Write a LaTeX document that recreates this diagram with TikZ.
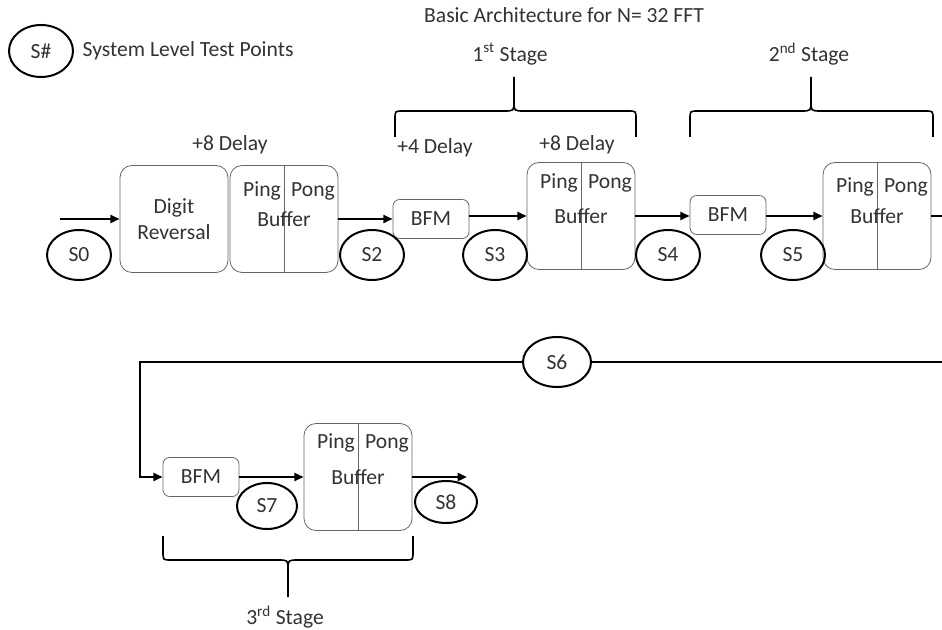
\documentclass[tikz,border=0pt]{standalone}
\usepackage{fontspec}
\setmainfont{Carlito}
\usetikzlibrary{arrows.meta,shapes.geometric}
\definecolor{txt}{HTML}{333333}
\begin{document}
\begin{tikzpicture}[x=0.75pt,y=-0.75pt,
  font=\fontsize{16.2}{18.5}\selectfont, text=txt,
  tp/.style={draw=black, line width=1.5pt, ellipse, inner sep=0pt, minimum width=64pt*0.75, minimum height=50pt*0.75},
  bigbox/.style={draw=black!60, line width=0.6pt, rounded corners=9pt, minimum width=108*0.75pt, minimum height=107*0.75pt, inner sep=0pt},
  bfmbox/.style={draw=black!60, line width=0.6pt, rounded corners=5pt, minimum width=76*0.75pt, minimum height=39*0.75pt, inner sep=0pt},
  flow/.style={line width=1.8pt, -{Triangle[length=7pt,width=6pt]}},
  wire/.style={line width=1.8pt},
  brace/.style={line width=1.2pt, line join=round}
]
\useasboundingbox (0,0) rectangle (942,630);

% legend and title
\node[tp, minimum width=64*0.75pt, minimum height=52*0.75pt] (leg) at (41,51) {S\#};
\node[anchor=west] (legt) at (78,51) {System Level Test Points};
\node (title) at (564,15) {Basic Architecture for N= 32 FFT};
\node (st1) at (510,54) {1\textsuperscript{st} Stage};
\node (st2) at (809,54) {2\textsuperscript{nd} Stage};
\node (st3) at (285,617) {3\textsuperscript{rd} Stage};

% row 1
\node[bigbox] (dr) at (174,219) {};
\node[align=center] (drt) at (174,219) {Digit\\[1pt]Reversal};
\node[bigbox] (b1) at (284,219) {};
\node[bigbox] (b2) at (581,216) {};
\node[bigbox] (b3) at (877,216) {};
\node[bigbox] (b4) at (358,477) {};
\foreach \b in {b1,b2,b3,b4}{
  \draw[black!60, line width=0.6pt] (\b.north) -- (\b.south);
}
\node (b1p) at ([xshift=-22*0.75pt,yshift=28*0.75pt]b1.center) {Ping};
\node (b1q) at ([xshift=29*0.75pt,yshift=28*0.75pt]b1.center) {Pong};
\node (b1b) at (b1.center) {Buffer};
\node (b2p) at ([xshift=-22*0.75pt,yshift=33*0.75pt]b2.center) {Ping};
\node (b2q) at ([xshift=29*0.75pt,yshift=33*0.75pt]b2.center) {Pong};
\node (b2b) at (b2.center) {Buffer};
\node (b3p) at ([xshift=-22*0.75pt,yshift=29*0.75pt]b3.center) {Ping};
\node (b3q) at ([xshift=29*0.75pt,yshift=29*0.75pt]b3.center) {Pong};
\node (b3b) at (b3.center) {Buffer};
\node (b4p) at ([xshift=-22*0.75pt,yshift=34*0.75pt]b4.center) {Ping};
\node (b4q) at ([xshift=29*0.75pt,yshift=34*0.75pt]b4.center) {Pong};
\node (b4b) at (b4.center) {Buffer};

\node[bfmbox] (f1) at (431,219) {BFM};
\node[bfmbox] (f2) at (728,215) {BFM};
\node[bfmbox] (f3) at (201,477) {BFM};

\node (d1) at (230,145) {+8 Delay};
\node (d2) at (435,148) {+4 Delay};
\node (d3) at (577,145) {+8 Delay};

% test points
\node[tp] (s0) at (79,255) {S0};
\node[tp] (s2) at (372,255) {S2};
\node[tp] (s3) at (495,255) {S3};
\node[tp] (s4) at (668,255) {S4};
\node[tp] (s5) at (793,255) {S5};
\node[tp, minimum width=68*0.75pt] (s6) at (557,362) {S6};
\node[tp, minimum width=60*0.75pt, minimum height=46*0.75pt] (s7) at (267,506) {S7};
\node[tp, minimum width=62*0.75pt, minimum height=42*0.75pt] (s8) at (446,502) {S8};

% connectors
\coordinate (in) at (60,219);
\coordinate (r1) at (942,216);
\coordinate (r2) at (942,362);
\coordinate (corner) at (140,362);
\coordinate (out) at (467,477);
\draw[flow] (in) -- (dr.west);
\draw[flow] (b1.east) -- (f1.west);
\draw[flow] (f1.east |- b2.west) -- (b2.west);
\draw[flow] (b2.east) -- (f2.west |- b2.east);
\draw[flow] (f2.east |- b3.west) -- (b3.west);
\draw[wire] (b3.east) -- (r1);
\draw[wire] (r2) -- (s6.east);
\draw[flow] (s6.west) -- (corner) |- (f3.west);
\draw[flow] (f3.east) -- (b4.west);
\draw[flow] (b4.east) -- (out);

% braces
\draw[brace] (395,137) -- (395,119) .. controls (395,111) .. (403,111) -- (504,111) .. controls (514,111) .. (514,101) -- (514,77);
\draw[brace] (514,101) .. controls (514,111) .. (524,111) -- (628,111) .. controls (636,111) .. (636,119) -- (636,137);
\draw[brace] (690,137) -- (690,119) .. controls (690,111) .. (698,111) -- (801,111) .. controls (811,111) .. (811,101) -- (811,77);
\draw[brace] (811,101) .. controls (811,111) .. (821,111) -- (925,111) .. controls (933,111) .. (933,119) -- (933,137);
\draw[brace] (163,536) -- (163,552) .. controls (163,560) .. (171,560) -- (278,560) .. controls (288,560) .. (288,570) -- (288,597);
\draw[brace] (288,570) .. controls (288,560) .. (298,560) -- (405,560) .. controls (413,560) .. (413,552) -- (413,536);
\end{tikzpicture}
\end{document}
